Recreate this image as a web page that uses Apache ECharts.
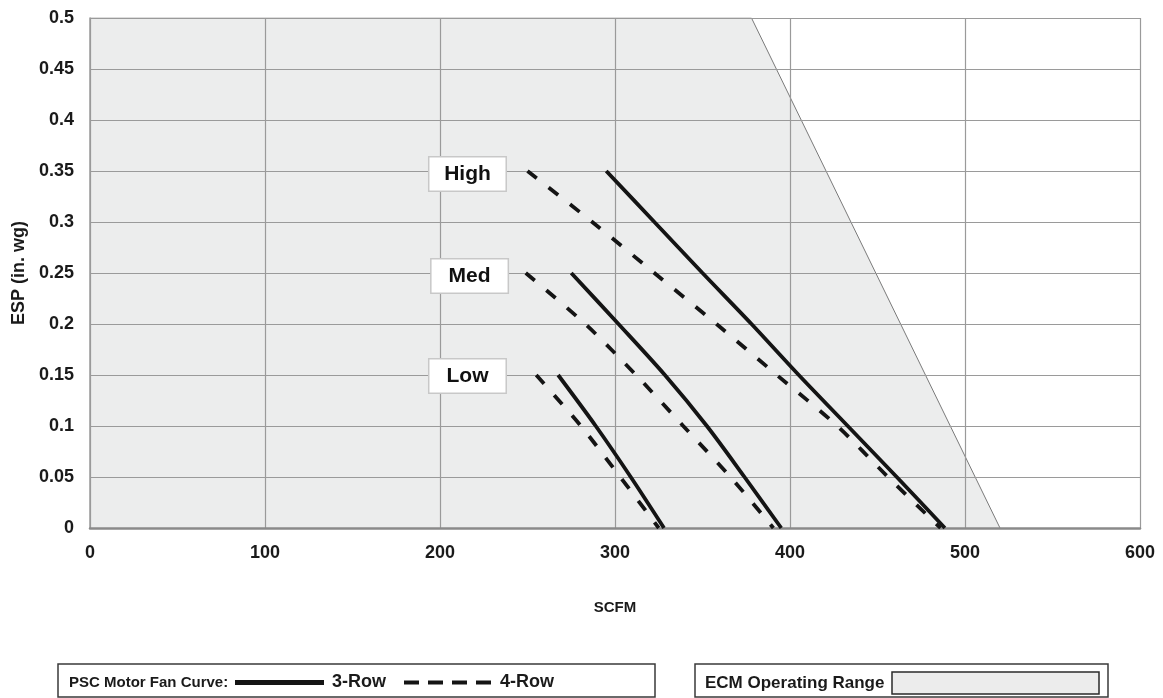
<!DOCTYPE html>
<html>
<head>
<meta charset="utf-8">
<script src="https://cdn.jsdelivr.net/npm/echarts@6/dist/echarts.min.js"></script>
<style>
    html, body { margin: 0; padding: 0; background: #fff; }
    #chart { width: 1163px; height: 698px; }
</style>
</head>
<body>
<div id="chart"></div>
<script>
// fan curves: [SCFM, ESP]
const high3Row = [[295, 0.35], [322.5, 0.3], [350, 0.25], [378, 0.2], [405, 0.15], [433, 0.1], [461, 0.05], [488.5, 0]];
const high4Row = [[250, 0.35], [287, 0.3], [322.5, 0.25], [358, 0.2], [392.5, 0.15], [427, 0.1], [456, 0.05], [486, 0]];
const med3Row = [[275, 0.25], [302, 0.2], [328.5, 0.15], [352.5, 0.1], [374, 0.05], [395, 0]];
const med4Row = [[249, 0.25], [283, 0.2], [312, 0.15], [339, 0.1], [366, 0.05], [390.5, 0]];
const low3Row = [[267.5, 0.15], [289, 0.1], [309, 0.05], [328, 0]];
const low4Row = [[255, 0.15], [280.5, 0.1], [303, 0.05], [325, 0]];

// ECM operating range outline
const ecmRange = [[0, 0.5], [378, 0.5], [520, 0]];

// speed labels
const speedNames = ["High", "Med", "Low"];
const speedLabelX = [215.7, 216.9, 215.7];
const speedLabelY = [0.347, 0.247, 0.149];

const legendTexts = ["PSC Motor Fan Curve:", "3-Row", "4-Row", "ECM Operating Range"];

const chart = echarts.init(document.getElementById("chart"));

const lineColor = "#141414";
const textColor = "#1a1a1a";
const fontMain = "Liberation Sans, Arial, sans-serif";

function fanLine(name, data, dashed) {
    return {
        name: name,
        type: "line",
        data: data,
        smooth: 0.3,
        symbol: "none",
        z: 3,
        lineStyle: {
            color: lineColor,
            width: 3.8,
            type: dashed ? [12, 15] : "solid",
            cap: "butt"
        }
    };
}

const labelData = speedNames.map(function (n, i) {
    return { name: n, value: [speedLabelX[i], speedLabelY[i]] };
});

const option = {
    animation: false,
    backgroundColor: "#fff",
    grid: {
        left: 90,
        right: 23,
        top: 18,
        bottom: 170
    },
    xAxis: {
        type: "value",
        min: 0,
        max: 600,
        interval: 100,
        name: "SCFM",
        nameLocation: "middle",
        nameGap: 72,
        nameTextStyle: { fontFamily: fontMain, fontWeight: "bold", fontSize: 15, color: textColor },
        axisLine: { show: true, lineStyle: { color: "#8a8a8a", width: 2.5 } },
        axisTick: { show: false },
        axisLabel: { fontFamily: fontMain, fontWeight: "bold", fontSize: 18, color: textColor, margin: 16 },
        splitLine: { show: true, lineStyle: { color: "#9a9a9a", width: 1.2 } }
    },
    yAxis: {
        type: "value",
        min: 0,
        max: 0.5,
        interval: 0.05,
        name: "ESP (in. wg)",
        nameLocation: "middle",
        nameGap: 62,
        nameTextStyle: { fontFamily: fontMain, fontWeight: "bold", fontSize: 18, color: textColor },
        axisLine: { show: true, lineStyle: { color: "#9a9a9a", width: 1.5 } },
        axisTick: { show: false },
        axisLabel: { fontFamily: fontMain, fontWeight: "bold", fontSize: 18, color: textColor, margin: 16 },
        splitLine: { show: true, lineStyle: { color: "#9a9a9a", width: 1.2 } }
    },
    series: [
        {
            name: "ECM Operating Range",
            type: "line",
            data: ecmRange,
            symbol: "none",
            z: -1,
            lineStyle: { color: "#7a7a7a", width: 1 },
            areaStyle: { color: "#eceded", opacity: 1 }
        },
        fanLine("High 3-Row", high3Row, false),
        fanLine("High 4-Row", high4Row, true),
        fanLine("Med 3-Row", med3Row, false),
        fanLine("Med 4-Row", med4Row, true),
        fanLine("Low 3-Row", low3Row, false),
        fanLine("Low 4-Row", low4Row, true),
        {
            name: "speed",
            type: "scatter",
            data: labelData,
            symbol: "rect",
            symbolSize: 1,
            itemStyle: { color: "#fff", opacity: 1 },
            z: 4,
            label: {
                show: true,
                position: "inside",
                formatter: "{b}",
                fontFamily: fontMain,
                fontWeight: "bold",
                fontSize: 21,
                color: "#111",
                opacity: 1,
                textBorderWidth: 0,
                backgroundColor: "#fff",
                borderColor: "#c8c8c8",
                borderWidth: 1.5,
                width: 76,
                height: 33,
                lineHeight: 33,
                align: "center",
                verticalAlign: "middle",
                padding: 0
            }
        }
    ],
    graphic: [
        {
            type: "rect",
            shape: { x: 58, y: 664, width: 597, height: 33 },
            style: { fill: "#fff", stroke: "#3a3a3a", lineWidth: 1.5 }
        },
        {
            type: "text",
            x: 69, y: 683,
            style: {
                text: legendTexts[0], fontFamily: fontMain, fontWeight: "bold", fontSize: 15,
                fill: textColor, verticalAlign: "middle"
            }
        },
        {
            type: "line",
            shape: { x1: 235, y1: 682.5, x2: 324, y2: 682.5 },
            style: { stroke: "#141414", lineWidth: 5 }
        },
        {
            type: "text",
            x: 332, y: 682,
            style: {
                text: legendTexts[1], fontFamily: fontMain, fontWeight: "bold", fontSize: 18,
                fill: textColor, verticalAlign: "middle"
            }
        },
        {
            type: "line",
            shape: { x1: 404, y1: 682.5, x2: 491, y2: 682.5 },
            style: { stroke: "#141414", lineWidth: 4, lineDash: [15, 9] }
        },
        {
            type: "text",
            x: 500, y: 682,
            style: {
                text: legendTexts[2], fontFamily: fontMain, fontWeight: "bold", fontSize: 18,
                fill: textColor, verticalAlign: "middle"
            }
        },
        {
            type: "rect",
            shape: { x: 695, y: 664, width: 413, height: 33 },
            style: { fill: "#fff", stroke: "#3a3a3a", lineWidth: 1.5 }
        },
        {
            type: "text",
            x: 705, y: 683,
            style: {
                text: legendTexts[3], fontFamily: fontMain, fontWeight: "bold", fontSize: 17,
                fill: textColor, verticalAlign: "middle"
            }
        },
        {
            type: "rect",
            shape: { x: 892, y: 672, width: 207, height: 22 },
            style: { fill: "#ececec", stroke: "#2a2a2a", lineWidth: 1.5 }
        }
    ]
};

chart.setOption(option);
</script>
</body>
</html>
